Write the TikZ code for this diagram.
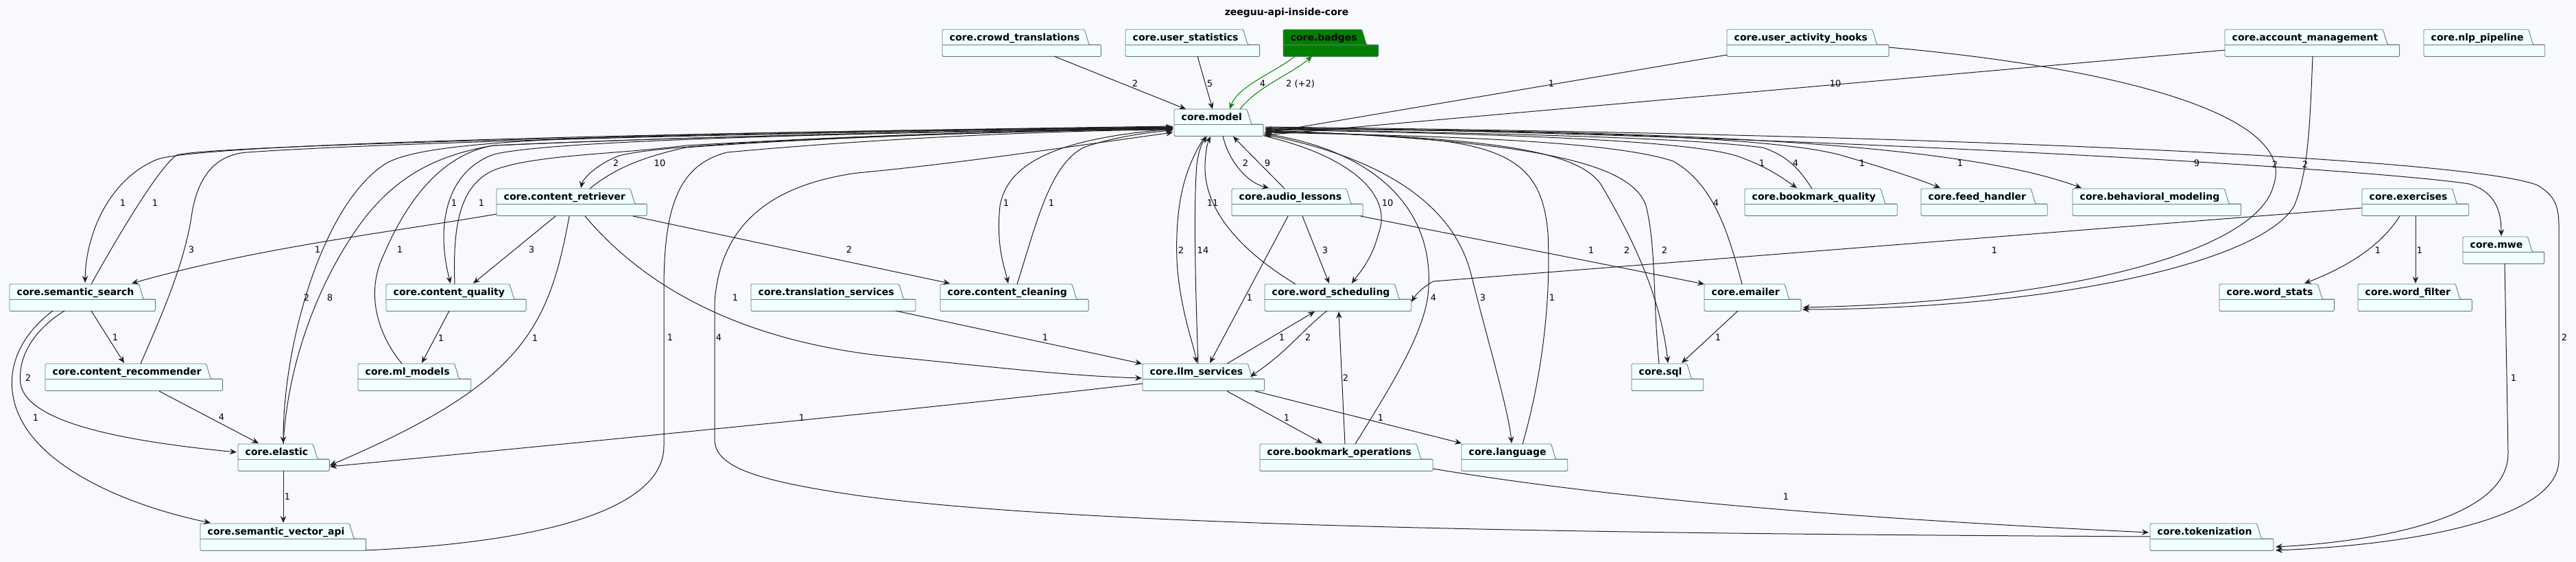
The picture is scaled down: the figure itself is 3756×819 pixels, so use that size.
\documentclass[tikz,border=0pt]{standalone}
\usepackage{fontspec}
\setmainfont{DejaVu Sans}
\usetikzlibrary{arrows.meta,calc,backgrounds}
\definecolor{bgc}{HTML}{F8F9FC}
\definecolor{pkfill}{HTML}{F0FFFF}
\definecolor{pkline}{HTML}{6E7B7B}
\definecolor{edgec}{HTML}{1E1E1E}
\definecolor{grn}{HTML}{008000}
\newcommand\pkgfont{\fontsize{14pt}{16pt}\selectfont\bfseries}
\tikzset{
  pkgbox/.style={rectangle, draw=none, inner sep=0pt, anchor=north west, font=\pkgfont, text height=16pt, text depth=23pt},
  pkgshape/.style={draw=pkline, fill=pkfill, line width=0.9pt, rounded corners=1.5pt},
  dep/.style={draw=edgec, line width=1pt, -{Stealth[length=10pt,width=8.5pt,inset=3.5pt]}},
  gdep/.style={dep, draw=grn},
  lbl/.style={font=\fontsize{13pt}{15pt}\selectfont, inner sep=0pt, text=black},
}
\newcommand\pkg[5][]{%
  \node[pkgbox] (#2) at (#3,#4) {\hspace*{10.5pt}#5\hspace*{31pt}};
  \begin{pgfonlayer}{background}
  \path[pkgshape,#1] (#2.south west) -- (#2.north west) -- ($(#2.north east)+(-24,0)$) -- ($(#2.north east)+(-17.5,22)$) -- ($(#2.north east)+(0,22)$) -- (#2.south east) -- cycle;
  \draw[pkgshape,#1,fill=none,rounded corners=0pt] ($(#2.north west)+(0,22)$) -- ($(#2.north east)+(0,22)$);
  \end{pgfonlayer}
}
\begin{document}
\begin{tikzpicture}[x=1pt,y=-1pt]
\useasboundingbox (0,0) rectangle (3756,819);
\begin{pgfonlayer}{background}
\fill[bgc] (0,0) rectangle (3756,819);
\end{pgfonlayer}
\node[font=\pkgfont, inner sep=0pt, anchor=base] (title) at (1876,23) {zeeguu-api-inside-core};
% packages
\pkg{crowd}{1374}{43}{core.crowd\_translations}
\pkg{ustat}{1641}{43}{core.user\_statistics}
\pkg[fill=grn]{badges}{1871}{43}{core.badges}
\pkg{uah}{2518}{43}{core.user\_activity\_hooks}
\pkg{acct}{3244}{43}{core.account\_management}
\pkg{nlp}{3534}{43}{core.nlp\_pipeline}
\pkg{model}{1712}{159}{core.model}
\pkg{cret}{724}{275}{core.content\_retriever}
\pkg{audio}{1796}{275}{core.audio\_lessons}
\pkg{bq}{2544}{275}{core.bookmark\_quality}
\pkg{feed}{2801}{275}{core.feed\_handler}
\pkg{behav}{3022}{275}{core.behavioral\_modeling}
\pkg{exer}{3444}{275}{core.exercises}
\pkg{mwe}{3591}{345}{core.mwe}
\pkg{ss}{14}{414}{core.semantic\_search}
\pkg{cq}{563}{414}{core.content\_quality}
\pkg{trans}{1095}{414}{core.translation\_services}
\pkg{clean}{1371}{414}{core.content\_cleaning}
\pkg{ws}{1844}{414}{core.word\_scheduling}
\pkg{email}{2485}{414}{core.emailer}
\pkg{wstats}{3236}{414}{core.word\_stats}
\pkg{wfilter}{3438}{414}{core.word\_filter}
\pkg{crec}{66}{530}{core.content\_recommender}
\pkg{ml}{522}{530}{core.ml\_models}
\pkg{llm}{1666}{530}{core.llm\_services}
\pkg{sql}{2379}{530}{core.sql}
\pkg{elastic}{347}{647}{core.elastic}
\pkg{bops}{1837}{647}{core.bookmark\_operations}
\pkg{lang}{2131}{647}{core.language}
\pkg{svapi}{292}{763}{core.semantic\_vector\_api}
\pkg{tok}{3135}{763}{core.tokenization}
% top row into model
\draw[dep] ($(crowd.north west)+(163,39)$) -- ($(model.north west)+(17,0)$);
\draw[dep] ($(ustat.north west)+(105,39)$) -- ($(model.north west)+(56,0)$);
\draw[gdep] ($(badges.north west)+(17,39)$) .. controls (1860,105) and (1805,125) .. ($(model.north west)+(81,0)$);
\draw[gdep] ($(model.north west)+(96,0)$) .. controls (1835,125) and (1880,110) .. ($(badges.north west)+(42,39)$);
\draw[dep] ($(uah.north west)+(0,37)$) -- ($(model.north west)+(131,35)$);
\draw[dep] ($(acct.north west)+(0,30)$) -- ($(model.north west)+(131,38)$);
\draw[dep] ($(uah.north west)+(236,26)$) .. controls (3100,100) and (3350,170) .. (3315,270) .. controls (3290,370) and (3000,440) .. ($(email.north west)+(144,34)$);
\draw[dep] ($(acct.north west)+(128,39)$) .. controls (3368,180) and (3366,250) .. (3345,300) .. controls (3300,380) and (3000,450) .. ($(email.north west)+(143,37)$);
% left side
\draw[dep] ($(model.north west)+(-2,25)$) .. controls (900,195) and (300,210) .. (230,232) .. controls (160,260) and (125,340) .. ($(ss.north west)+(110,-2)$);
\draw[dep] ($(ss.north west)+(119,0)$) .. controls (180,330) and (235,240) .. (258,226) .. controls (300,212) and (1000,195) .. ($(model.north west)+(-2,26)$);
\draw[dep] ($(cret.north west)+(0,37)$) .. controls (560,340) and (380,360) .. ($(ss.north west)+(178,-1)$);
\draw[dep] ($(crec.north west)+(139,0)$) .. controls (240,450) and (270,380) .. (280,310) .. controls (290,250) and (320,225) .. (360,222) .. controls (600,205) and (1300,190) .. ($(model.north west)+(-2,27)$);
\draw[dep] ($(model.north west)+(-2,28)$) .. controls (1300,195) and (950,210) .. (900,228) .. controls (870,240) and (850,260) .. ($(cret.north west)+(123,-1)$);
\draw[dep] ($(cret.north west)+(136,0)$) .. controls (890,250) and (930,230) .. (1000,215) .. controls (1200,200) and (1500,190) .. ($(model.north west)+(-2,29)$);
\draw[dep] ($(model.north west)+(-2,27)$) .. controls (1200,195) and (800,205) .. (720,225) .. controls (650,250) and (635,330) .. ($(cq.north west)+(94,-1)$);
\draw[dep] ($(cq.north west)+(100,0)$) .. controls (660,330) and (670,270) .. (720,248) .. controls (780,225) and (900,225) .. (1000,212) .. controls (1300,195) and (1500,190) .. ($(model.north west)+(-2,29)$);
\draw[dep] ($(cret.north west)+(86,40)$) -- ($(cq.north west)+(127,-1)$);
\draw[dep] ($(cq.north west)+(92,39)$) -- ($(ml.north west)+(93,-1)$);
\draw[dep] ($(ml.north west)+(64,0)$) .. controls (545,480) and (535,420) .. (560,370) .. controls (590,300) and (640,225) .. (720,212) .. controls (1100,195) and (1500,190) .. ($(model.north west)+(-2,28)$);
\draw[dep] ($(model.north west)+(-2,26)$) .. controls (900,195) and (620,200) .. (560,240) .. controls (470,300) and (413,500) .. ($(elastic.north west)+(66,-1)$);
\draw[dep] ($(elastic.north west)+(66,0)$) .. controls (420,520) and (470,400) .. (530,320) .. controls (580,255) and (640,225) .. (720,212) .. controls (1100,195) and (1500,190) .. ($(model.north west)+(-2,28)$);
\draw[dep] ($(cret.north west)+(106,40)$) .. controls (800,480) and (760,560) .. ($(elastic.north west)+(134,31)$);
\draw[dep] ($(cret.north west)+(199,40)$) -- ($(clean.north west)+(14,-1)$);
\draw[dep] ($(model.north west)+(-2,29)$) .. controls (1560,200) and (1470,230) .. (1458,300) .. controls (1452,360) and (1465,390) .. ($(clean.north west)+(99,-1)$);
\draw[dep] ($(clean.north west)+(112,0)$) .. controls (1510,330) and (1530,240) .. (1580,215) .. controls (1620,200) and (1680,192) .. ($(model.north west)+(-2,31)$);
\draw[dep] ($(cret.north west)+(129,40)$) .. controls (950,430) and (1100,500) .. (1300,520) .. controls (1450,535) and (1560,548) .. ($(llm.north west)+(-1,21)$);
\draw[dep] ($(trans.north west)+(211,39)$) -- ($(llm.north west)+(-1,0)$);
\draw[dep] ($(llm.north west)+(0,29)$) .. controls (1400,590) and (900,640) .. ($(elastic.north west)+(134,33)$);
\draw[dep] ($(ss.north west)+(119,39)$) -- ($(crec.north west)+(115,-1)$);
\draw[dep] ($(ss.north west)+(80,39)$) .. controls (50,480) and (25,520) .. (30,560) .. controls (40,610) and (150,640) .. ($(elastic.north west)+(-2,12)$);
\draw[dep] ($(ss.north west)+(63,39)$) .. controls (15,500) and (5,560) .. (30,610) .. controls (70,690) and (200,740) .. ($(svapi.north west)+(15,-1)$);
\draw[dep] ($(crec.north west)+(166,40)$) -- ($(elastic.north west)+(30,-1)$);
\draw[dep] ($(elastic.north west)+(66,39)$) -- ($(svapi.north west)+(121,-1)$);
\draw[dep] ($(svapi.north west)+(241,39)$) .. controls (800,790) and (968,740) .. (968,650) -- (968,420) .. controls (968,300) and (990,240) .. (1060,222) .. controls (1300,200) and (1550,190) .. ($(model.north west)+(-2,30)$);
\draw[dep] ($(tok.north west)+(0,19)$) .. controls (2400,778) and (1600,770) .. (1250,722) .. controls (1100,700) and (1042,680) .. (1042,640) -- (1042,440) .. controls (1050,330) and (1120,270) .. (1250,252) .. controls (1400,238) and (1550,215) .. ($(model.north west)+(-2,34)$);
% center
\draw[dep] ($(model.north west)+(71,39)$) .. controls (1790,230) and (1815,265) .. ($(audio.north west)+(54,-1)$);
\draw[dep] ($(audio.north west)+(77,0)$) -- ($(model.north west)+(86,40)$);
\draw[dep] ($(model.north west)+(45,40)$) .. controls (1730,240) and (1713,290) .. (1716,380) .. controls (1720,450) and (1740,500) .. ($(llm.north west)+(79,-1)$);
\draw[dep] ($(llm.north west)+(81,0)$) .. controls (1743,420) and (1740,300) .. (1745,240) .. controls (1748,215) and (1755,205) .. ($(model.north west)+(48,40)$);
\draw[dep] ($(ws.north west)+(45,0)$) .. controls (1800,360) and (1755,300) .. (1757,240) .. controls (1758,215) and (1762,205) .. ($(model.north west)+(53,40)$);
\draw[dep] ($(model.north west)+(131,39)$) .. controls (1980,230) and (2030,290) .. (2010,340) .. controls (2000,380) and (1980,400) .. ($(ws.north west)+(127,-1)$);
\draw[dep] ($(audio.north west)+(103,40)$) -- ($(ws.north west)+(94,-1)$);
\draw[dep] ($(audio.north west)+(82,40)$) -- ($(llm.north west)+(98,-1)$);
\draw[dep] ($(audio.north west)+(188,40)$) -- ($(email.north west)+(0,0)$);
\draw[dep] ($(ws.north west)+(91,39)$) .. controls (1900,480) and (1880,510) .. ($(llm.north west)+(157,19)$);
\draw[dep] ($(llm.north west)+(123,0)$) -- ($(ws.north west)+(73,40)$);
\draw[dep] ($(exer.north west)+(0,28)$) -- (2090,410) .. controls (2072,420) and (2064,430) .. ($(ws.north west)+(214,26)$);
\draw[dep] ($(bops.north west)+(124,0)$) -- ($(ws.north west)+(108,40)$);
\draw[dep] ($(bops.north west)+(139,0)$) .. controls (2030,560) and (2080,480) .. (2083,420) .. controls (2090,300) and (2000,220) .. ($(model.north west)+(133,36)$);
\draw[dep] ($(model.north west)+(131,37)$) .. controls (2020,230) and (2120,300) .. (2145,400) .. controls (2170,500) and (2200,600) .. ($(lang.north west)+(73,-1)$);
\draw[dep] ($(lang.north west)+(89,0)$) .. controls (2245,560) and (2262,450) .. (2257,340) .. controls (2250,260) and (2220,220) .. (2100,205) .. controls (2000,195) and (1900,193) .. ($(model.north west)+(133,33)$);
\draw[dep] ($(llm.north west)+(123,40)$) -- ($(bops.north west)+(91,-1)$);
\draw[dep] ($(llm.north west)+(164,40)$) -- ($(lang.north west)+(0,-1)$);
\draw[dep] ($(bops.north west)+(252,36)$) .. controls (2400,735) and (2800,760) .. ($(tok.north west)+(-2,13)$);
% right side
\draw[dep] ($(model.north west)+(133,32)$) .. controls (2150,200) and (2300,215) .. (2335,270) .. controls (2370,330) and (2420,420) .. ($(sql.north west)+(53,-1)$);
\draw[dep] ($(sql.north west)+(40,0)$) .. controls (2410,440) and (2415,360) .. (2400,300) .. controls (2380,240) and (2250,205) .. ($(model.north west)+(133,31)$);
\draw[dep] ($(email.north west)+(49,39)$) -- ($(sql.north west)+(73,-1)$);
\draw[dep] ($(email.north west)+(55,0)$) .. controls (2520,340) and (2500,270) .. (2440,235) .. controls (2350,205) and (2100,198) .. ($(model.north west)+(133,34)$);
\draw[dep] ($(model.north west)+(133,30)$) .. controls (2200,195) and (2480,205) .. (2540,230) .. controls (2580,245) and (2600,260) .. ($(bq.north west)+(76,-1)$);
\draw[dep] ($(bq.north west)+(98,0)$) .. controls (2620,240) and (2600,225) .. (2570,215) .. controls (2450,200) and (2200,195) .. ($(model.north west)+(133,29)$);
\draw[dep] ($(model.north west)+(133,29)$) .. controls (2300,190) and (2580,200) .. (2680,225) .. controls (2750,245) and (2800,262) .. ($(feed.north west)+(28,-1)$);
\draw[dep] ($(model.north west)+(133,28)$) .. controls (2400,190) and (2850,205) .. ($(behav.north west)+(13,-1)$);
\draw[dep] ($(model.north west)+(133,27)$) .. controls (2600,195) and (3450,245) .. (3600,268) .. controls (3640,280) and (3647,310) .. ($(mwe.north west)+(56,-1)$);
\draw[dep] ($(model.north west)+(133,26)$) .. controls (2800,195) and (3600,230) .. (3700,270) .. controls (3725,285) and (3731,300) .. (3731,330) -- (3731,670) .. controls (3731,760) and (3500,795) .. ($(tok.north west)+(183,39)$);
\draw[dep] ($(mwe.north west)+(61,39)$) -- (3657,660) .. controls (3658,760) and (3450,790) .. ($(tok.north west)+(183,34)$);
\draw[dep] ($(exer.north west)+(55,40)$) .. controls (3470,360) and (3420,390) .. ($(wstats.north west)+(124,-1)$);
\draw[dep] ($(exer.north west)+(78,40)$) -- ($(wfilter.north west)+(84,-1)$);
% labels
\node[lbl] (l1) at (1655,122) {2};
\node[lbl] (l2) at (1764,122) {5};
\node[lbl] (l3) at (1841,122) {4};
\node[lbl] (l4) at (1896,122) {2 (+2)};
\node[lbl] (l5) at (2262,122) {1};
\node[lbl] (l6) at (2676,122) {10};
\node[lbl] (l7) at (3317,240) {2};
\node[lbl] (l8) at (3361,240) {2};
\node[lbl] (l9) at (179,296) {1};
\node[lbl] (l10) at (226,296) {1};
\node[lbl] (l11) at (463,364) {1};
\node[lbl] (l12) at (279,364) {3};
\node[lbl] (l13) at (898,238) {2};
\node[lbl] (l14) at (962,238) {10};
\node[lbl] (l15) at (662,296) {1};
\node[lbl] (l16) at (702,296) {1};
\node[lbl] (l17) at (775,364) {3};
\node[lbl] (l18) at (643,493) {1};
\node[lbl] (l19) at (583,364) {1};
\node[lbl] (l20) at (447,434) {2};
\node[lbl] (l21) at (481,434) {8};
\node[lbl] (l22) at (780,493) {1};
\node[lbl] (l23) at (1238,364) {2};
\node[lbl] (l24) at (1467,296) {1};
\node[lbl] (l25) at (1533,296) {1};
\node[lbl] (l26) at (1072,434) {1};
\node[lbl] (l27) at (1524,492) {1};
\node[lbl] (l28) at (1169,609) {1};
\node[lbl] (l29) at (168,492) {1};
\node[lbl] (l30) at (41,551) {2};
\node[lbl] (l31) at (52,609) {1};
\node[lbl] (l32) at (323,608) {4};
\node[lbl] (l33) at (419,724) {1};
\node[lbl] (l34) at (977,492) {1};
\node[lbl] (l35) at (1048,492) {4};
\node[lbl] (l36) at (1816,238) {2};
\node[lbl] (l37) at (1848,238) {9};
\node[lbl] (l38) at (1722,365) {2};
\node[lbl] (l39) at (1754,365) {14};
\node[lbl] (l40) at (1768,296) {11};
\node[lbl] (l41) at (2023,296) {10};
\node[lbl] (l42) at (1932,365) {3};
\node[lbl] (l43) at (1822,434) {1};
\node[lbl] (l44) at (2320,365) {1};
\node[lbl] (l45) at (1907,492) {2};
\node[lbl] (l46) at (1869,492) {1};
\node[lbl] (l47) at (2908,365) {1};
\node[lbl] (l48) at (1962,551) {2};
\node[lbl] (l49) at (2090,434) {4};
\node[lbl] (l50) at (2162,434) {3};
\node[lbl] (l51) at (2263,434) {1};
\node[lbl] (l52) at (1876,609) {1};
\node[lbl] (l53) at (2013,609) {1};
\node[lbl] (l54) at (2604,724) {1};
\node[lbl] (l55) at (2372,365) {2};
\node[lbl] (l56) at (2427,365) {2};
\node[lbl] (l57) at (2505,492) {1};
\node[lbl] (l58) at (2502,296) {4};
\node[lbl] (l59) at (2569,238) {1};
\node[lbl] (l60) at (2618,238) {4};
\node[lbl] (l61) at (2715,238) {1};
\node[lbl] (l62) at (2858,238) {1};
\node[lbl] (l63) at (3203,238) {9};
\node[lbl] (l64) at (3739,492) {2};
\node[lbl] (l65) at (3665,551) {1};
\node[lbl] (l66) at (3467,365) {1};
\node[lbl] (l67) at (3528,365) {1};
\end{tikzpicture}
\end{document}
